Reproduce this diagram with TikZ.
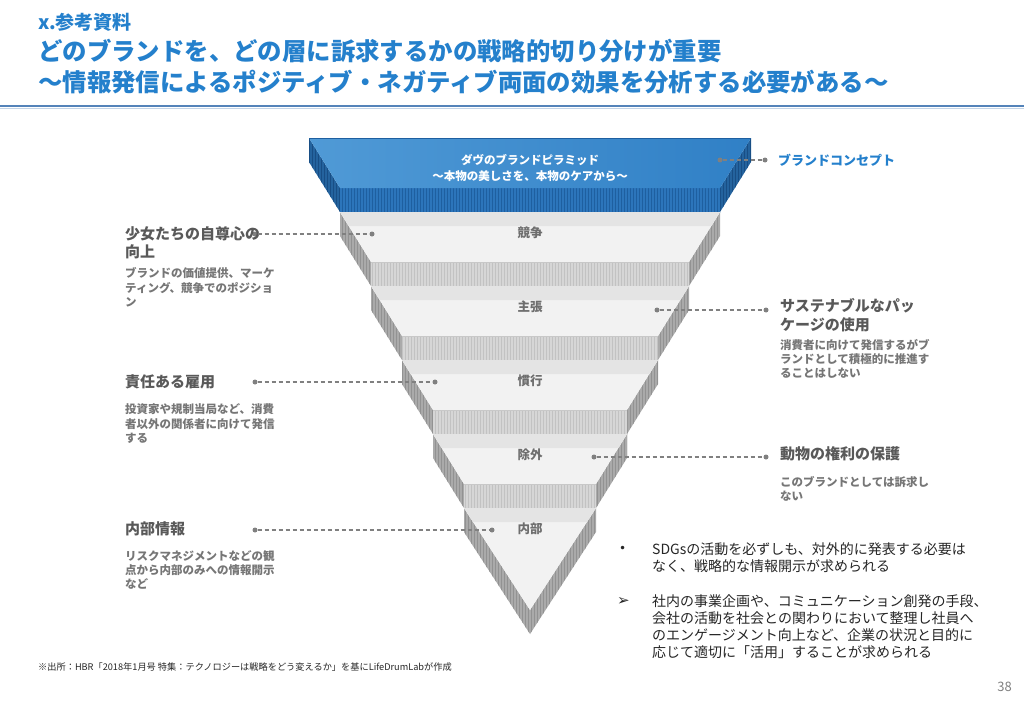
\documentclass[tikz,border=0pt]{standalone}
\usepackage{fontspec}
\setmainfont{Noto Sans CJK JP}
\newfontfamily\dejavu{DejaVu Sans}
\usetikzlibrary{patterns}
\definecolor{titleblue}{RGB}{36,128,204}
\definecolor{ruleblue}{RGB}{84,131,185}
\definecolor{titlegrey}{RGB}{89,89,89}
\definecolor{descgrey}{RGB}{118,118,118}
\definecolor{tiergrey}{RGB}{110,110,110}
\definecolor{dotgrey}{RGB}{128,128,128}
\definecolor{bodytext}{RGB}{38,38,38}
\definecolor{topface}{RGB}{242,242,242}
\definecolor{topband}{RGB}{228,228,228}
\definecolor{frontgrey}{RGB}{214,214,214}
\definecolor{frontstripe}{RGB}{194,194,194}
\definecolor{sidegrey}{RGB}{170,170,170}
\definecolor{sidestripe}{RGB}{146,146,146}
\definecolor{blueA}{RGB}{80,154,214}
\definecolor{blueB}{RGB}{48,128,198}
\definecolor{bluefront}{RGB}{44,117,187}
\definecolor{bluefrontstripe}{RGB}{30,95,160}
\definecolor{blueside}{RGB}{36,99,158}
\definecolor{bluesidestripe}{RGB}{24,78,133}
\tikzset{
  dot/.style={circle,fill=dotgrey,inner sep=0pt,minimum size=5pt},
  conn/.style={draw=dotgrey,line width=1.2pt,dash pattern=on 4pt off 3pt},
  ltitle/.style={anchor=west,inner sep=0pt,font=\fontsize{15}{18}\selectfont\bfseries,text=titlegrey},
  ldesc/.style={anchor=west,inner sep=0pt,font=\fontsize{11.5}{14}\selectfont\bfseries,text=descgrey},
  tierlabel/.style={inner sep=0pt,font=\fontsize{12.5}{15}\selectfont\bfseries,text=tiergrey},
  bluetext/.style={inner sep=0pt,font=\fontsize{11.5}{14}\selectfont\bfseries,text=white},
  bodyline/.style={anchor=west,inner sep=0pt,font=\fontsize{14}{17}\selectfont,text=bodytext},
  headtitle/.style={anchor=west,inner sep=0pt,font=\fontsize{24.4}{28}\selectfont\bfseries,text=titleblue}
}
\begin{document}
\begin{tikzpicture}[x=1pt,y=-1pt]
\fill[white] (0,0) rectangle (1024,709);
\useasboundingbox (0,0) rectangle (1024,709);

% ---------- header ----------
\node[anchor=west,inner sep=0pt,font=\fontsize{19}{22}\selectfont\bfseries,text=titleblue] (hsec) at (38,22) {x.参考資料};
\node[headtitle] (htitle1) at (38,51) {どのブランドを、どの層に訴求するかの戦略的切り分けが重要};
\node[headtitle] (htitle2) at (38,82) {〜情報発信によるポジティブ・ネガティブ両面の効果を分析する必要がある〜};
\draw[ruleblue,line width=2pt] (0,106) -- (1024,106);
\draw[ruleblue!35,line width=1pt] (0,108) -- (1024,108);

% ---------- pyramid: blue top layer ----------
\fill[blueside] (309,138) -- (340,188) -- (340,212) -- (309,162) -- cycle;
\fill[pattern=vertical lines,pattern color=bluesidestripe] (309,138) -- (340,188) -- (340,212) -- (309,162) -- cycle;
\fill[blueside] (751,138) -- (720,188) -- (720,212) -- (751,162) -- cycle;
\fill[pattern=vertical lines,pattern color=bluesidestripe] (751,138) -- (720,188) -- (720,212) -- (751,162) -- cycle;
\fill[bluefront] (340,188) rectangle (720,212);
\fill[pattern=vertical lines,pattern color=bluefrontstripe] (340,188) rectangle (720,212);
\shade[left color=blueA,right color=blueB] (309,138) -- (751,138) -- (720,188) -- (340,188) -- cycle;
\draw[bluefrontstripe,line width=0.8pt] (309,138) -- (751,138);
\node[bluetext] (blue1) at (530,160) {ダヴのブランドピラミッド};
\node[bluetext] (blue2) at (530,176) {〜本物の美しさを、本物のケアから〜};

% ---------- pyramid: grey layers ----------
\foreach \i/\lab in {1/競争,2/主張,3/慣行,4/除外} {
  \pgfmathsetmacro\yt{138+74*\i}
  \pgfmathsetmacro\yh{\yt+24}
  \pgfmathsetmacro\yf{\yt+50}
  \pgfmathsetmacro\ye{\yt+74}
  \pgfmathsetmacro\yband{\yt+14}
  \pgfmathsetmacro\xa{530-(221-31*\i)}
  \pgfmathsetmacro\xb{530+(221-31*\i)}
  \pgfmathsetmacro\xc{530-(190-31*\i)}
  \pgfmathsetmacro\xd{530+(190-31*\i)}
  \pgfmathsetmacro\xba{\xa+0.62*14}
  \pgfmathsetmacro\xbb{\xb-0.62*14}
  \fill[sidegrey] (\xa,\yt) -- (\xc,\yf) -- (\xc,\ye) -- (\xa,\yh) -- cycle;
  \fill[pattern=vertical lines,pattern color=sidestripe] (\xa,\yt) -- (\xc,\yf) -- (\xc,\ye) -- (\xa,\yh) -- cycle;
  \fill[sidegrey] (\xb,\yt) -- (\xd,\yf) -- (\xd,\ye) -- (\xb,\yh) -- cycle;
  \fill[pattern=vertical lines,pattern color=sidestripe] (\xb,\yt) -- (\xd,\yf) -- (\xd,\ye) -- (\xb,\yh) -- cycle;
  \fill[frontgrey] (\xc,\yf) rectangle (\xd,\ye);
  \fill[pattern=vertical lines,pattern color=frontstripe] (\xc,\yf) rectangle (\xd,\ye);
  \draw[frontstripe,line width=0.6pt] (\xc,\yf) -- (\xd,\yf) (\xc,\ye) -- (\xd,\ye);
  \fill[topface] (\xa,\yt) -- (\xb,\yt) -- (\xd,\yf) -- (\xc,\yf) -- cycle;
  \fill[topband] (\xa,\yt) -- (\xb,\yt) -- (\xbb,\yband) -- (\xba,\yband) -- cycle;
  \node[tierlabel] (tier\i) at (530,\yt+21) {\lab};
}
% bottom tip layer
\fill[sidegrey] (464,508) -- (530,610) -- (530,634) -- (464,532) -- cycle;
\fill[pattern=vertical lines,pattern color=sidestripe] (464,508) -- (530,610) -- (530,634) -- (464,532) -- cycle;
\fill[sidegrey] (596,508) -- (530,610) -- (530,634) -- (596,532) -- cycle;
\fill[pattern=vertical lines,pattern color=sidestripe] (596,508) -- (530,610) -- (530,634) -- (596,532) -- cycle;
\fill[topface] (464,508) -- (596,508) -- (530,610) -- cycle;
\fill[topband] (464,508) -- (596,508) -- (587,522) -- (473,522) -- cycle;
\node[tierlabel] (tier5) at (530,529) {内部};

% ---------- connectors ----------
\node[dot] (c0a) at (720,160) {};
\node[dot] (c0b) at (765,160) {};
\draw[conn] (c0a) -- (c0b);
\node[anchor=west,inner sep=0pt,font=\fontsize{13}{16}\selectfont\bfseries,text=titleblue] (concept) at (778,160) {ブランドコンセプト};

\node[dot] (c1a) at (255,234) {};
\node[dot] (c1b) at (372,234) {};
\node[dot] (c2a) at (255,382) {};
\node[dot] (c2b) at (435,382) {};
\node[dot] (c3a) at (255,530) {};
\node[dot] (c3b) at (492,530) {};
\node[dot] (c4a) at (657,310) {};
\node[dot] (c4b) at (766,310) {};
\node[dot] (c5a) at (594,457) {};
\node[dot] (c5b) at (766,457) {};

% ---------- left texts ----------
\node[ltitle] (l1t1) at (125,234) {少女たちの自尊心の};
\node[ltitle] (l1t2) at (125,252) {向上};
\node[ldesc] (l1d1) at (125,273) {ブランドの価値提供、マーケ};
\node[ldesc] (l1d2) at (125,288) {ティング、競争でのポジショ};
\node[ldesc] (l1d3) at (125,302) {ン};

\node[ltitle] (l2t1) at (125,382) {責任ある雇用};
\node[ldesc] (l2d1) at (125,409) {投資家や規制当局など、消費};
\node[ldesc] (l2d2) at (125,424) {者以外の関係者に向けて発信};
\node[ldesc] (l2d3) at (125,438) {する};

\node[ltitle] (l3t1) at (125,529) {内部情報};
\node[ldesc] (l3d1) at (125,556) {リスクマネジメントなどの観};
\node[ldesc] (l3d2) at (125,570) {点から内部のみへの情報開示};
\node[ldesc] (l3d3) at (125,584) {など};

% ---------- right texts ----------
\node[ltitle] (r1t1) at (780,306) {サステナブルなパッ};
\node[ltitle] (r1t2) at (780,325) {ケージの使用};
\node[ldesc] (r1d1) at (780,345) {消費者に向けて発信するがブ};
\node[ldesc] (r1d2) at (780,359) {ランドとして積極的に推進す};
\node[ldesc] (r1d3) at (780,373) {ることはしない};

\node[ltitle] (r2t1) at (780,454) {動物の権利の保護};
\node[ldesc] (r2d1) at (780,482) {このブランドとしては訴求し};
\node[ldesc] (r2d2) at (780,496) {ない};

% dashed connectors on top
\draw[conn] (c1a) -- (c1b);
\draw[conn] (c2a) -- (c2b);
\draw[conn] (c3a) -- (c3b);
\draw[conn] (c4a) -- (c4b);
\draw[conn] (c5a) -- (c5b);

% ---------- bullet text ----------
\node[anchor=west,inner sep=0pt,font=\dejavu\fontsize{12}{14}\selectfont,text=bodytext] (b1) at (619,549) {•};
\node[bodyline] (b1l1) at (652,549) {SDGsの活動を必ずしも、対外的に発表する必要は};
\node[bodyline] (b1l2) at (652,566) {なく、戦略的な情報開示が求められる};
\node[anchor=west,inner sep=0pt,font=\dejavu\fontsize{15}{17}\selectfont,text=bodytext] (b2) at (617,601) {➢};
\node[bodyline] (b2l1) at (652,601) {社内の事業企画や、コミュニケーション創発の手段、};
\node[bodyline] (b2l2) at (652,618) {会社の活動を社会との関わりにおいて整理し社員へ};
\node[bodyline] (b2l3) at (652,635) {のエンゲージメント向上など、企業の状況と目的に};
\node[bodyline] (b2l4) at (652,652) {応じて適切に「活用」することが求められる};

% ---------- footer ----------
\node[anchor=west,inner sep=0pt,font=\fontsize{9.2}{11}\selectfont,text=bodytext] (src) at (38,667) {※出所：HBR「2018年1月号 特集：テクノロジーは戦略をどう変えるか」を基にLifeDrumLabが作成};
\node[anchor=east,inner sep=0pt,font=\fontsize{13}{15}\selectfont,text=gray] (pnum) at (1012,687) {38};
\end{tikzpicture}
\end{document}
